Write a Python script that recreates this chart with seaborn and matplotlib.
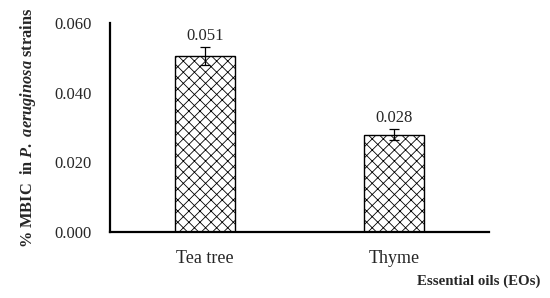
import numpy as np
import pandas as pd
import matplotlib
matplotlib.use("Agg")
import matplotlib.pyplot as plt
import seaborn as sns

# ── Data ───────────────────────────────────────────────
oils = ["Tea tree", "Thyme"]
mbic = [0.0505, 0.0279]
mbic_err = [0.0026, 0.0016]
value_labels = ["0.051", "0.028"]
yticks = [0.000, 0.020, 0.040, 0.060]

sns.set_theme(style="white")
plt.rcParams["font.family"] = ["Liberation Serif", "DejaVu Serif"]
plt.rcParams["mathtext.fontset"] = "custom"
plt.rcParams["mathtext.rm"] = "Liberation Serif:bold"
plt.rcParams["mathtext.it"] = "Liberation Serif:italic:bold"
plt.rcParams["hatch.linewidth"] = 0.6

df = pd.DataFrame({"oil": oils, "mbic": mbic})

fig = plt.figure(figsize=(5.5, 2.98), dpi=100)
ax = fig.add_axes([0.2, 0.2215, 0.689, 0.7015])

sns.barplot(data=df, x="oil", y="mbic", ax=ax, width=0.317,
            color="white", edgecolor="black", linewidth=1.0, errorbar=None)
for p in ax.patches:
    p.set_hatch("xxx")

ax.errorbar(np.arange(len(oils)), mbic, yerr=mbic_err, fmt="none",
            ecolor="black", elinewidth=0.9, capsize=3.5, capthick=0.9)

for i, (v, e, lab) in enumerate(zip(mbic, mbic_err, value_labels)):
    ax.annotate(lab, (i, v + e), xytext=(0, 2), textcoords="offset points",
                ha="center", va="bottom", fontsize=12)

ax.set_xlim(-0.5, 1.5)
ax.set_ylim(0, 0.06)
ax.set_yticks(yticks)
ax.set_yticklabels([f"{t:.3f}" for t in yticks], fontsize=12)
ax.tick_params(axis="x", labelsize=13, length=0, pad=13)
ax.tick_params(axis="y", length=0, pad=13)

for s in ["top", "right"]:
    ax.spines[s].set_visible(False)
for s in ["left", "bottom"]:
    ax.spines[s].set_color("black")
    ax.spines[s].set_linewidth(1.6)

ax.set_xlabel("")
ax.set_ylabel(r"% MBIC  in $\mathit{P.\ aeruginosa}$ strains",
              fontsize=11.8, fontweight="bold", labelpad=12)
fig.text(0.87, 0.055, "Essential oils (EOs)", fontsize=10.7, fontweight="bold",
         ha="center", va="center")

fig.savefig("out.png", dpi=100)
